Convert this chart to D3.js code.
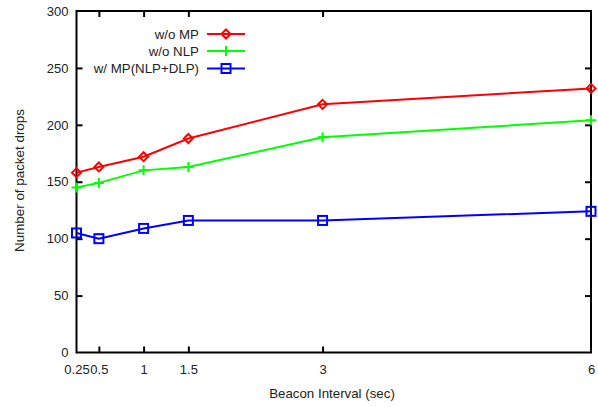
<!DOCTYPE html>
<html><head><meta charset="utf-8">
<script src="https://cdn.jsdelivr.net/npm/d3@7"></script>
<style>body{margin:0;background:#fff}svg{display:block}text{font-family:"Liberation Sans",Arial,sans-serif;fill:#222}</style>
</head><body><div id="c"></div>
<script>
const xValues = [0.25, 0.5, 1, 1.5, 3, 6];
const xTickLabels = ["0.25", "0.5", "1", "1.5", "3", "6"];
const yTicks = [0, 50, 100, 150, 200, 250, 300];
const seriesNames = ["w/o MP", "w/o NLP", "w/ MP(NLP+DLP)"];
const woMP = [158, 163, 172, 188, 218, 232];
const woNLP = [145, 149, 160, 163, 189, 204];
const wMP = [105, 100, 109, 116, 116, 124];
const colors = ["#ff0000", "#00ff00", "#0000ff"];
const symbols = ["diamond", "plus", "square"];

const W = 598, H = 407;
const m = {left: 76.5, right: 598 - 591, top: 11, bottom: 407 - 352.5};
const svg = d3.select("#c").append("svg").attr("width", W).attr("height", H);
const x = d3.scaleLinear().domain([0.25, 6]).range([m.left, W - m.right]);
const y = d3.scaleLinear().domain([0, 300]).range([H - m.bottom, m.top]);

const g = svg.append("g");
const fs = "13px";
const ax = g.append("g").attr("transform", `translate(0,${y(0)})`)
  .call(d3.axisBottom(x).tickValues(xValues).tickFormat((d, i) => xTickLabels[i]).tickSize(-6).tickPadding(12.5));
const axT = g.append("g").attr("transform", `translate(0,${y(300)})`)
  .call(d3.axisTop(x).tickValues(xValues).tickFormat("").tickSize(-6));
const ay = g.append("g").attr("transform", `translate(${x(0.25)},0)`)
  .call(d3.axisLeft(y).tickValues(yTicks).tickSize(-6).tickPadding(8));
const ayR = g.append("g").attr("transform", `translate(${x(6)},0)`)
  .call(d3.axisRight(y).tickValues(yTicks).tickFormat("").tickSize(-6));
[ax, axT, ay, ayR].forEach(a => {
  a.select(".domain").remove();
  a.selectAll(".tick line").attr("stroke", "#000").attr("stroke-width", 2);
  a.selectAll("text").style("font-size", fs).style("font-family", '"Liberation Sans",Arial,sans-serif').attr("fill", "#222");
});
ax.selectAll(".tick").filter(d => d === 0.25 || d === 6).select("line").remove();
axT.selectAll(".tick").filter(d => d === 0.25 || d === 6).select("line").remove();
ay.selectAll(".tick").filter(d => d === 0 || d === 300).select("line").remove();
ayR.selectAll(".tick").filter(d => d === 0 || d === 300).select("line").remove();

g.append("rect").attr("x", x(0.25)).attr("y", y(300)).attr("width", x(6) - x(0.25)).attr("height", y(0) - y(300))
  .attr("fill", "none").attr("stroke", "#000").attr("stroke-width", 2);

svg.append("text").attr("x", 332).attr("y", 397.5).attr("text-anchor", "middle")
  .style("font-size", "13.3px").text("Beacon Interval (sec)");
svg.append("text").attr("transform", `translate(23.5,${180.5}) rotate(-90)`).attr("text-anchor", "middle")
  .style("font-size", "13.4px").text("Number of packet drops");

function marker(sel, type, color, cx, cy) {
  if (type === "diamond") {
    sel.append("path").attr("d", `M${cx},${cy - 4.5}L${cx + 4.5},${cy}L${cx},${cy + 4.5}L${cx - 4.5},${cy}Z`)
      .attr("fill", "none").attr("stroke", color).attr("stroke-width", 2);
  } else if (type === "plus") {
    sel.append("path").attr("d", `M${cx - 5},${cy}H${cx + 5}M${cx},${cy - 5}V${cy + 5}`)
      .attr("fill", "none").attr("stroke", color).attr("stroke-width", 2);
  } else {
    sel.append("rect").attr("x", cx - 4.5).attr("y", cy - 4.5).attr("width", 9).attr("height", 9)
      .attr("fill", "none").attr("stroke", color).attr("stroke-width", 2);
  }
}

const allSeries = [woMP, woNLP, wMP];
const line = d3.line().x((d, i) => x(xValues[i])).y(d => y(d));
allSeries.forEach((s, k) => {
  const sg = svg.append("g");
  sg.append("path").datum(s).attr("d", line).attr("fill", "none").attr("stroke", colors[k]).attr("stroke-width", 2);
  s.forEach((v, i) => marker(sg, symbols[k], colors[k], x(xValues[i]), y(v)));
});

const legY = [34, 51, 68.5];
seriesNames.forEach((n, k) => {
  svg.append("text").attr("x", 199).attr("y", legY[k]).attr("dy", "0.35em").attr("text-anchor", "end")
    .style("font-size", "13.3px").text(n);
  svg.append("line").attr("x1", 207).attr("x2", 245).attr("y1", legY[k]).attr("y2", legY[k])
    .attr("stroke", colors[k]).attr("stroke-width", 2);
  marker(svg, symbols[k], colors[k], 226, legY[k]);
});
</script></body></html>
